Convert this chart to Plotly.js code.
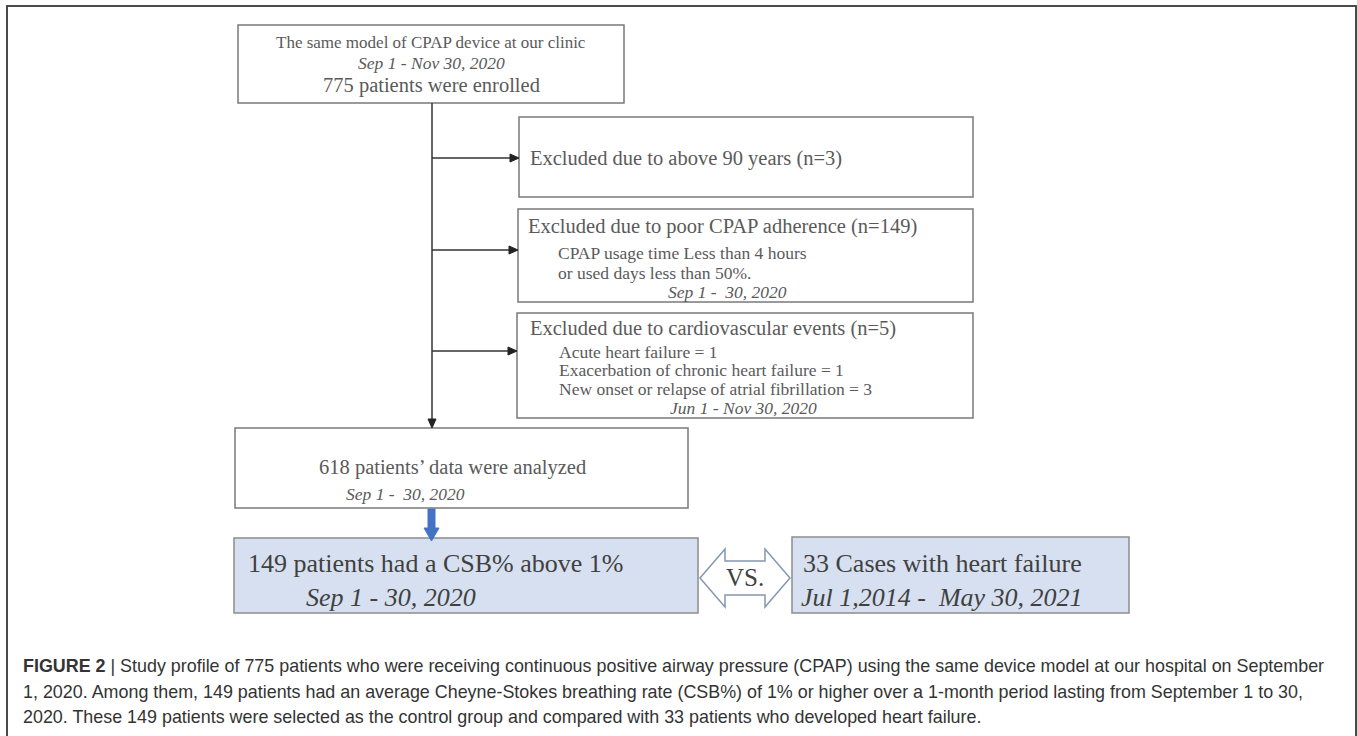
<!DOCTYPE html>
<html><head><meta charset="utf-8">
<script src="https://cdn.plot.ly/plotly-3.0.1.min.js"></script>
<style>html,body{margin:0;padding:0;background:#fff;}#chart{width:1357px;height:736px;}</style>
</head><body><div id="chart"></div>
<script>
// ---- content (texts / counts) ----
const enrolledLines = ["The same model of CPAP device at our clinic", "<i>Sep 1 - Nov 30, 2020</i>", "775 patients were enrolled"];
const excludedAgeLines = ["Excluded due to above 90 years (n=3)"];
const excludedAdherenceLines = ["Excluded due to poor CPAP adherence (n=149)", "CPAP usage time Less than 4 hours", "or used days less than 50%.", "<i>Sep 1 -  30, 2020</i>"];
const excludedCardioLines = ["Excluded due to cardiovascular events (n=5)", "Acute heart failure = 1", "Exacerbation of chronic heart failure = 1", "New onset or relapse of atrial fibrillation = 3", "<i>Jun 1 - Nov 30, 2020</i>"];
const analyzedLines = ["618 patients’ data were analyzed", "<i>Sep 1 -  30, 2020</i>"];
const controlLines = ["149 patients had a CSB% above 1%", "<i>Sep 1 - 30, 2020</i>"];
const caseLines = ["33 Cases with heart failure", "<i>Jul 1,2014 -  May 30, 2021</i>"];
const vsLabel = "VS.";
const captionLines = [
  "<b>FIGURE 2</b> | Study profile of 775 patients who were receiving continuous positive airway pressure (CPAP) using the same device model at our hospital on September",
  "1, 2020. Among them, 149 patients had an average Cheyne-Stokes breathing rate (CSB%) of 1% or higher over a 1-month period lasting from September 1 to 30,",
  "2020. These 149 patients were selected as the control group and compared with 33 patients who developed heart failure."
];

// ---- layout geometry (pixels) ----
const SERIF = "Liberation Serif, Times New Roman, serif";
const SANS = "Liberation Sans, Arial, sans-serif";
const GREY = "#5a5a5a";
const BORDER = "#7a7a7a";
const shapes = [];
const annotations = [];

function rect(x0, y0, x1, y1, fill, color, width) {
  shapes.push({type: "rect", xref: "x", yref: "y", x0, y0, x1, y1,
    fillcolor: fill || "rgba(0,0,0,0)", line: {color: color || BORDER, width: width || 1.5}, layer: "below"});
}
function line(x0, y0, x1, y1, color, width) {
  shapes.push({type: "line", xref: "x", yref: "y", x0, y0, x1, y1, line: {color: color || "#333", width: width || 1.5}});
}
function path(d, fill, color, width) {
  shapes.push({type: "path", xref: "x", yref: "y", path: d, fillcolor: fill, line: {color: color, width: width}});
}
function headRight(x, y) { path(`M${x},${y} L${x-9},${y-4} L${x-9},${y+4} Z`, "#222", "#222", 1); }
function headDown(x, y) { path(`M${x},${y} L${x-4},${y-9} L${x+4},${y-9} Z`, "#222", "#222", 1); }
function txt(text, x, y, size, opts) {
  opts = opts || {};
  annotations.push({xref: "x", yref: "y", x, y, text, showarrow: false,
    xanchor: opts.anchor || "left", yanchor: "middle", borderpad: 0,
    font: {family: opts.family || SERIF, size, color: opts.color || GREY}});
}

// outer frame
rect(7, 6, 1356, 760, "rgba(0,0,0,0)", "#4a4a4a", 2);

// top box
rect(238, 25, 624, 103);
txt(enrolledLines[0], 431, 42, 17, {anchor: "center"});
txt(enrolledLines[1], 431, 63, 17.5, {anchor: "center"});
txt(enrolledLines[2], 431, 85, 20.5, {anchor: "center"});

// main vertical line with arrow
const MX = 432;
line(MX, 103, MX, 420);
headDown(MX, 428);

// exclusion boxes and branch arrows
rect(519, 117, 973, 197);
line(MX, 158, 511, 158); headRight(519, 158);
txt(excludedAgeLines[0], 529, 158, 20.5);

rect(518, 209, 973, 302);
line(MX, 250, 510, 250); headRight(518, 250);
txt(excludedAdherenceLines[0], 527, 226, 20.5);
txt(excludedAdherenceLines[1], 557, 253, 17.5);
txt(excludedAdherenceLines[2], 557, 273, 17.5);
txt(excludedAdherenceLines[3], 667, 292, 17.5);

rect(517, 313, 973, 418);
line(MX, 351, 509, 351); headRight(517, 351);
txt(excludedCardioLines[0], 529, 328, 20.5);
txt(excludedCardioLines[1], 558, 352, 17.5);
txt(excludedCardioLines[2], 558, 370, 17.5);
txt(excludedCardioLines[3], 558, 389, 17.5);
txt(excludedCardioLines[4], 669, 408, 17.5);

// analyzed box
rect(235, 428, 688, 508);
txt(analyzedLines[0], 318, 467, 20.5);
txt(analyzedLines[1], 345, 494, 17.5);

// blue block arrow
path("M428,509 L435,509 L435,528 L439,528 L431.5,541 L424,528 L428,528 Z", "#4472c4", "#4472c4", 1);

// blue boxes
const BLUE = "#d7e0f0";
rect(234, 538, 698, 613, BLUE, "#8c8c8c", 1.5);
txt(controlLines[0], 247, 563, 26, {color: "#404040"});
txt(controlLines[1], 305, 597, 26, {color: "#404040"});

rect(792, 537, 1129, 613, BLUE, "#8c8c8c", 1.5);
txt(caseLines[0], 802, 563, 26, {color: "#404040"});
txt(caseLines[1], 800, 597, 26, {color: "#404040"});

// VS double arrow
path("M700,578 L725,549 L725,561 L765,561 L765,549 L790,578 L765,607 L765,595 L725,595 L725,607 Z", "#ffffff", "#8497b0", 1.5);
txt(vsLabel, 745, 577, 25, {anchor: "center", color: "#404040"});

// caption
txt(captionLines[0], 22, 666, 17.9, {family: SANS, color: "#333"});
txt(captionLines[1], 22, 692, 17.9, {family: SANS, color: "#333"});
txt(captionLines[2], 22, 717, 17.9, {family: SANS, color: "#333"});

const layout = {
  width: 1357, height: 736,
  margin: {l: 0, r: 0, t: 0, b: 0},
  paper_bgcolor: "#ffffff", plot_bgcolor: "#ffffff",
  xaxis: {range: [0, 1357], visible: false, fixedrange: true},
  yaxis: {range: [736, 0], visible: false, fixedrange: true},
  showlegend: false,
  shapes, annotations
};
Plotly.newPlot("chart", [], layout, {staticPlot: true, displayModeBar: false});
</script>
</body></html>
